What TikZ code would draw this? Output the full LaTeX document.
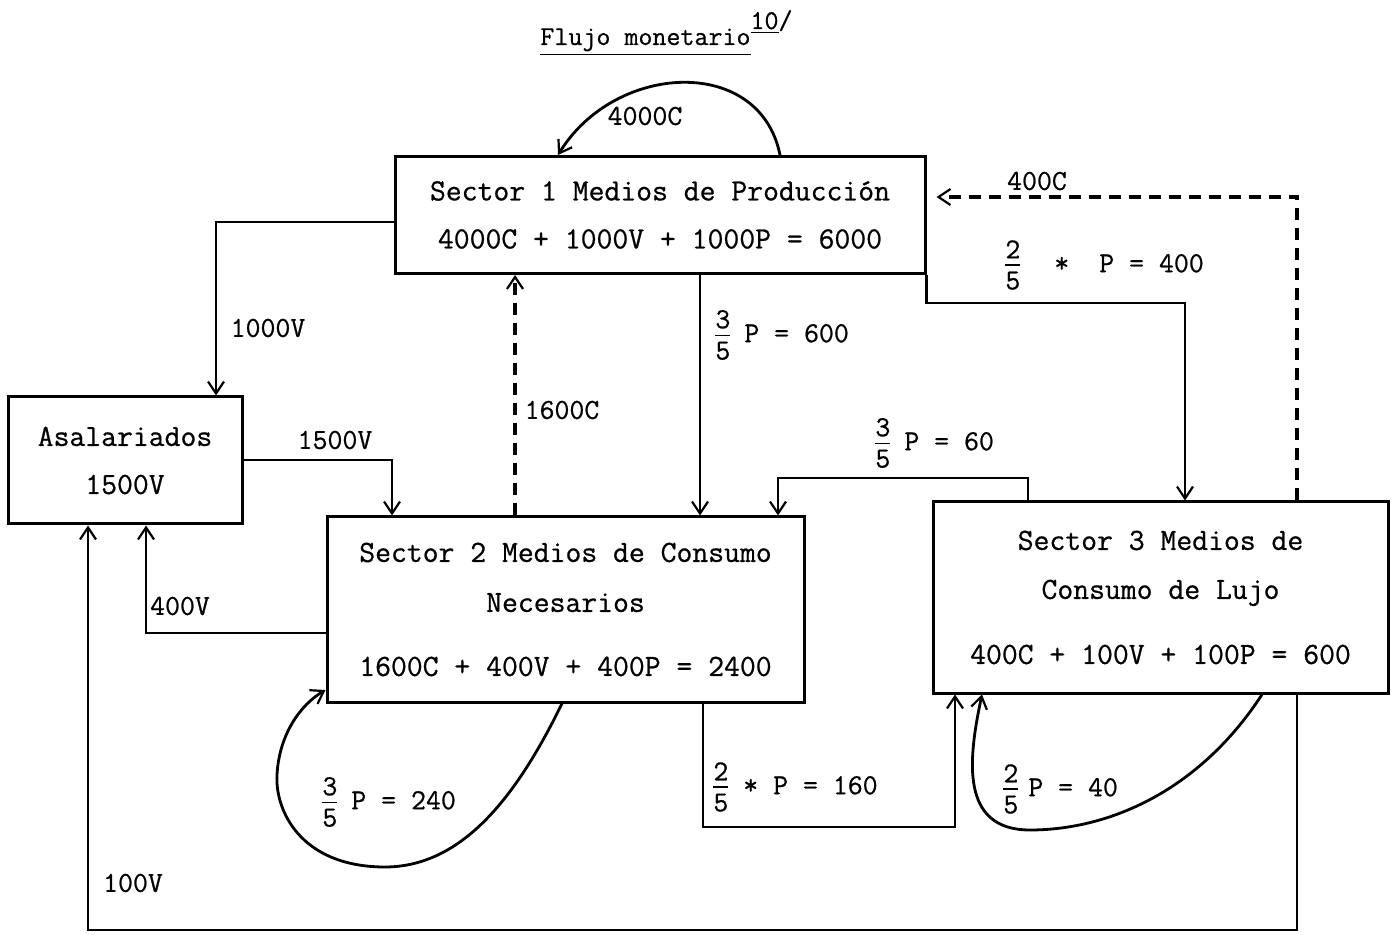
\documentclass[tikz,border=0pt]{standalone}
\usepackage{fontspec}
\newfontfamily\tw[FakeBold=0.7]{Latin Modern Mono}
\usetikzlibrary{arrows.meta}
\newcommand\fr[2]{\ensuremath{\vcenter{\offinterlineskip\halign{\hfil##\hfil\cr#1\cr\noalign{\kern3pt\hrule height0.6pt\kern3pt}#2\cr}}}}
\tikzset{
  box/.style={draw, line width=1.5pt, inner sep=0pt, align=center, font=\tw\fontsize{15.4}{18}\selectfont},
  lbl/.style={inner sep=1pt, font=\tw\fontsize{14.5}{17}\selectfont},
  conn/.style={line width=1.4pt, -{Straight Barb[length=6pt,width=8pt,line width=1.1pt]}},
  dconn/.style={conn, line width=1.7pt, dash pattern=on 6pt off 4pt},
}
\begin{document}
\begin{tikzpicture}[x=0.5pt, y=-0.5pt]
\useasboundingbox (0,0) rectangle (1393,935);
% title
\node[lbl, anchor=base west, font=\tw\fontsize{13.6}{16}\selectfont] (title) at (538,45)
  {\underline{Flujo monetario}\raisebox{8pt}{\underline{10}/}};
% boxes
\node[box, minimum width=265pt, minimum height=58.5pt] (S1) at (660,215)
  {Sector 1 Medios de Producción\\[6pt]4000C + 1000V + 1000P = 6000};
\node[box, minimum width=117pt, minimum height=63.5pt] (AS) at (125,460.5)
  {Asalariados\\[6pt]1500V};
\node[box, minimum width=238.5pt, minimum height=92.5pt] (S2) at (565.5,609.5)
  {Sector 2 Medios de Consumo\\[7pt]Necesarios\\[14pt]1600C + 400V + 400P = 2400};
\node[box, minimum width=227.5pt, minimum height=95.5pt] (S3) at (1160.5,597.5)
  {Sector 3 Medios de\\[6.5pt]Consumo de Lujo\\[14.5pt]400C + 100V + 100P = 600};
% 4000C loop
\draw[conn] (S1.north -| 780,0) .. controls (760,55) and (615,62) .. (S1.north -| 558,0);
\node[lbl] (l4000) at (645,116) {4000C};
% 1000V
\draw[conn] (S1.west |- 0,222) -| (AS.north -| 216,0);
\node[lbl] (l1000) at (268,328) {1000V};
% 1500V
\draw[conn] (AS.east |- 0,460) -| (S2.north -| 392,0);
\node[lbl] (l1500) at (335,440) {1500V};
% 400V
\draw[conn] (S2.west |- 0,633) -| (AS.south -| 146,0);
\node[lbl] (l400) at (180,606) {400V};
% 3/5 P = 600
\draw[conn] (S1.south -| 700,0) -- (S2.north -| 700,0);
\node[lbl, anchor=west] (l600) at (713,335) {\fr{3}{5}\hspace{7pt}P = 600};
% 1600C dashed
\draw[dconn] (S2.north -| 515,0) -- (S1.south -| 515,0);
\node[lbl] (l1600) at (562,410) {1600C};
% 2/5 * P = 400
\draw[conn] (S1.south east) -- (S1.south east |- 0,303) -| (S3.north -| 1185,0);
\node[lbl, anchor=west] (l400P) at (1003,265) {\fr{2}{5}\hspace{17pt}*\hspace{15pt}P = 400};
% 400C dashed
\draw[dconn] (S3.north -| 1297,0) |- ([xshift=5pt]S1.east |- 0,197);
\node[lbl] (l400C) at (1037,181) {400C};
% 3/5 P = 60
\draw[conn] (S3.north -| 1028,0) -- (1028,478) -| (S2.north -| 778,0);
\node[lbl, anchor=west] (l60) at (873,443) {\fr{3}{5}\hspace{7pt}P = 60};
% 2/5 * P = 160
\draw[conn] (S2.south -| 703,0) -- (703,827) -| (S3.south -| 955,0);
\node[lbl, anchor=west] (l160) at (711,787) {\fr{2}{5}~*~P = 160};
% Sector 2 loop
\draw[conn] (S2.south -| 562,0) .. controls (515,800) and (460,868) .. (383,867)
  .. controls (300,866) and (275,810) .. (277,775)
  .. controls (279,735) and (300,705) .. (S2.west |- 0,690);
\node[lbl, anchor=west] (l240) at (320,802) {\fr{3}{5}\hspace{7pt}P = 240};
% Sector 3 loop
\draw[conn] (S3.south -| 1262,0) .. controls (1200,790) and (1110,830) .. (1030,830)
  .. controls (960,830) and (968,760) .. (S3.south -| 982,0);
\node[lbl, anchor=west] (l40) at (1001,789) {\fr{2}{5}\hspace{5pt}P = 40};
% 100V
\draw[conn] (S3.south -| 1297,0) -- (1297,930) -| (AS.south -| 88,0);
\node[lbl] (l100V) at (133,883) {100V};
\end{tikzpicture}
\end{document}
